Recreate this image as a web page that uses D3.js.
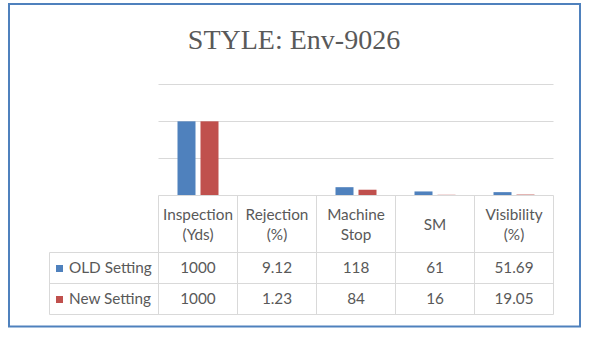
<!DOCTYPE html>
<html>
<head>
<meta charset="utf-8">
<script src="https://cdn.jsdelivr.net/npm/d3@7"></script>
<style>
  html, body { margin: 0; padding: 0; background: #ffffff; }
  svg { display: block; }
</style>
</head>
<body>
<svg id="chart" width="592" height="337"></svg>
<script>
// ---- data ----
const categories = ["Inspection (Yds)", "Rejection (%)", "Machine Stop", "SM", "Visibility (%)"];
const headerLines = [["Inspection", "(Yds)"], ["Rejection", "(%)"], ["Machine", "Stop"], ["SM"], ["Visibility", "(%)"]];
const seriesNames = ["OLD Setting", "New Setting"];
const oldValues = [1000, 9.12, 118, 61, 51.69];
const newValues = [1000, 1.23, 84, 16, 19.05];
const valueLabelsOld = ["1000", "9.12", "118", "61", "51.69"];
const valueLabelsNew = ["1000", "1.23", "84", "16", "19.05"];
const yTicks = [0, 500, 1000, 1500];
const title = "STYLE: Env-9026";

// ---- style ----
const colors = ["#4f81bd", "#c0504d"];
const textColor = "#595959";
const gridColor = "#d9d9d9";
const tableFont = "Lato, 'Open Sans', sans-serif";
const tableFontSize = 15.3;

const svg = d3.select("#chart");

// outer border
svg.append("rect")
  .attr("x", 9).attr("y", 4).attr("width", 571).attr("height", 322.5)
  .attr("fill", "#fff").attr("stroke", "#4f81bd").attr("stroke-width", 2);

// title
svg.append("text")
  .attr("x", 294).attr("y", 48.5)
  .attr("text-anchor", "middle")
  .attr("font-family", "'Liberation Serif', 'Times New Roman', serif")
  .attr("font-size", 28)
  .attr("fill", textColor)
  .text(title);

// scales
const plotLeft = 158.5, plotRight = 553.5, plotTop = 84, plotBottom = 196;
const x = d3.scaleBand().domain(categories).range([plotLeft, plotRight]).paddingInner(0).paddingOuter(0);
const x1 = d3.scaleBand().domain(seriesNames).range([19, 60]).paddingInner(5 / 23).paddingOuter(0);
const y = d3.scaleLinear().domain([0, 1500]).range([plotBottom, plotTop]);

// gridlines
svg.append("g").selectAll("line").data(yTicks.filter(t => t > 0)).join("line")
  .attr("x1", plotLeft).attr("x2", plotRight)
  .attr("y1", d => Math.floor(y(d)) + 0.5).attr("y2", d => Math.floor(y(d)) + 0.5)
  .attr("stroke", gridColor).attr("stroke-width", 1);

// bars
const seriesData = [oldValues, newValues];
seriesNames.forEach((s, si) => {
  svg.append("g").selectAll("rect").data(categories).join("rect")
    .attr("x", (c) => x(c) + x1(s))
    .attr("width", x1.bandwidth())
    .attr("y", (c, i) => y(seriesData[si][i]))
    .attr("height", (c, i) => plotBottom - y(seriesData[si][i]))
    .attr("fill", colors[si]);
});

// ---- data table ----
const tableLeft = 49.5;
const axisY = 195.5;
const headerBottom = 252.5, row1Bottom = 283.5, row2Bottom = 314.5;
const tg = svg.append("g").attr("stroke", gridColor).attr("stroke-width", 1);
// top (axis) line
tg.append("line").attr("x1", plotLeft).attr("x2", plotRight).attr("y1", axisY).attr("y2", axisY);
// horizontal lines
[headerBottom, row1Bottom, row2Bottom].forEach(yy => {
  tg.append("line").attr("x1", tableLeft).attr("x2", plotRight).attr("y1", yy).attr("y2", yy);
});
// vertical lines at column boundaries
const bounds = categories.map(c => x(c)).concat([plotRight]);
tg.selectAll("line.v").data(bounds).join("line").attr("class", "v")
  .attr("x1", d => Math.floor(d) + 0.5).attr("x2", d => Math.floor(d) + 0.5)
  .attr("y1", axisY).attr("y2", row2Bottom);
tg.append("line").attr("x1", tableLeft).attr("x2", tableLeft).attr("y1", headerBottom).attr("y2", row2Bottom);

// header texts
const hg = svg.append("g").attr("font-family", tableFont).attr("font-size", tableFontSize).attr("fill", textColor).attr("text-anchor", "middle");
categories.forEach((c, i) => {
  const lines = headerLines[i];
  const cx = x(c) + x.bandwidth() / 2;
  const t = hg.append("text").attr("x", cx);
  if (lines.length === 2) {
    t.append("tspan").attr("x", cx).attr("y", 219.5).text(lines[0]);
    t.append("tspan").attr("x", cx).attr("y", 239.5).text(lines[1]);
  } else {
    t.attr("y", 229.5).text(lines[0]);
  }
});

// value rows
const valueLabels = [valueLabelsOld, valueLabelsNew];
const rowBaselines = [273, 304];
seriesNames.forEach((s, si) => {
  svg.append("g").selectAll("text").data(categories).join("text")
    .attr("x", c => x(c) + x.bandwidth() / 2)
    .attr("y", rowBaselines[si])
    .attr("text-anchor", "middle")
    .attr("font-family", tableFont).attr("font-size", tableFontSize).attr("fill", textColor)
    .text((c, i) => valueLabels[si][i]);
  // legend key
  svg.append("rect").attr("x", 56).attr("y", rowBaselines[si] - 8).attr("width", 7).attr("height", 7).attr("fill", colors[si]);
  svg.append("text").attr("x", 69).attr("y", rowBaselines[si])
    .attr("font-family", tableFont).attr("font-size", tableFontSize).attr("fill", textColor)
    .text(s);
});
</script>
</body>
</html>
